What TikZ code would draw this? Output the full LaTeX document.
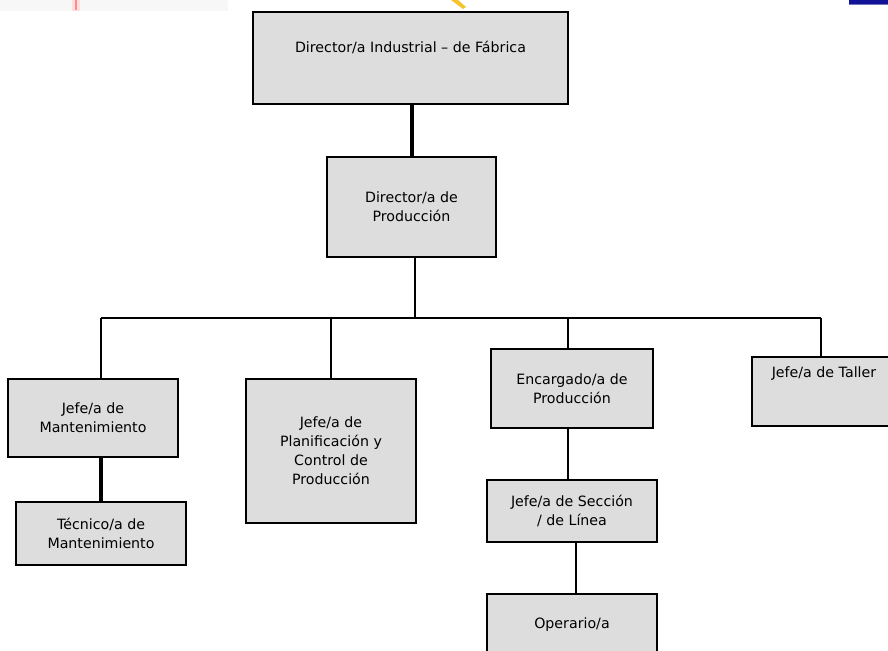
\documentclass[tikz,border=0pt]{standalone}
\usepackage{fontspec}
\setmainfont{DejaVu Sans}
\begin{document}
\begin{tikzpicture}[x=1pt,y=-1pt,
  orgfont/.style={font=\fontsize{14.2}{19}\selectfont, text=black},
  orgbox/.style={draw=black, line width=1.6pt, fill=boxgray, inner sep=0pt,
    align=center, orgfont},
  conn/.style={line width=1.5pt},
  heavy/.style={line width=3.4pt}]
\definecolor{boxgray}{RGB}{221,221,221}
\definecolor{logoblue}{RGB}{18,18,150}
\definecolor{logoyellow}{RGB}{246,196,40}
\useasboundingbox (0,0) rectangle (888,650);
\clip (0,0) rectangle (888,650);
\fill[white] (0,0) rectangle (888,650);

% fragments of the letterhead logos along the top edge
\fill[black!3] (0,0) rectangle (228,11);
\fill[red!12] (72,0) rectangle (80,11);
\fill[red!45] (75,0) rectangle (77,10);
\fill[logoyellow] (451,0) -- (458,0) -- (466,7) -- (463,9) -- cycle;
\fill[logoblue] (849,0) rectangle (888,5);
\fill[logoblue!60] (849,4) rectangle (888,5.5);

% boxes
\node[orgbox, minimum width=315, minimum height=92,
  label={[anchor=north, yshift=-26, orgfont]north:Director/a Industrial -- de Fábrica}]
  (dind) at (410.5,58) {};
\node[orgbox, minimum width=169, minimum height=100] (dprod) at (411.5,207) {Director/a de\\Producción};
\node[orgbox, minimum width=170, minimum height=78] (mant) at (93,418) {Jefe/a de\\Mantenimiento};
\node[orgbox, minimum width=170, minimum height=63] (tec) at (101,533.5) {Técnico/a de\\Mantenimiento};
\node[orgbox, minimum width=170, minimum height=144] (plan) at (331,451) {Jefe/a de\\Planificación y\\Control de\\Producción};
\node[orgbox, minimum width=162, minimum height=79] (enc) at (572,388.5) {Encargado/a de\\Producción};
\node[orgbox, minimum width=170, minimum height=62] (secc) at (572,511) {Jefe/a de Sección\\/ de Línea};
\node[orgbox, minimum width=170, minimum height=62] (oper) at (572,625) {Operario/a};
\node[orgbox, minimum width=144, minimum height=69,
  label={[anchor=north, yshift=-7, orgfont]north:Jefe/a de Taller}]
  (taller) at (824,391.5) {};

% bus and drop points
\coordinate (bdp) at (415,318);
\coordinate (bmant) at (101,318);
\coordinate (bplan) at (331,318);
\coordinate (benc) at (568,318);
\coordinate (btal) at (821,318);

% connectors
\draw[heavy] ([xshift=1.5]dind.south) -- ([xshift=1.5]dind.south |- dprod.north);
\draw[conn] ([xshift=3.5]dprod.south) -- (bdp);
\draw[conn] (bmant) -- (btal);
\draw[conn] (bmant) -- (bmant |- mant.north);
\draw[conn] (bplan) -- (plan.north);
\draw[conn] (benc) -- (benc |- enc.north);
\draw[conn] (btal) -- (btal |- taller.north);
\draw[heavy] (tec.north |- mant.south) -- (tec.north);
\draw[conn] ([xshift=-4]enc.south) -- ([xshift=-4]secc.north);
\draw[conn] ([xshift=4]secc.south) -- ([xshift=4]oper.north);
\end{tikzpicture}
\end{document}
